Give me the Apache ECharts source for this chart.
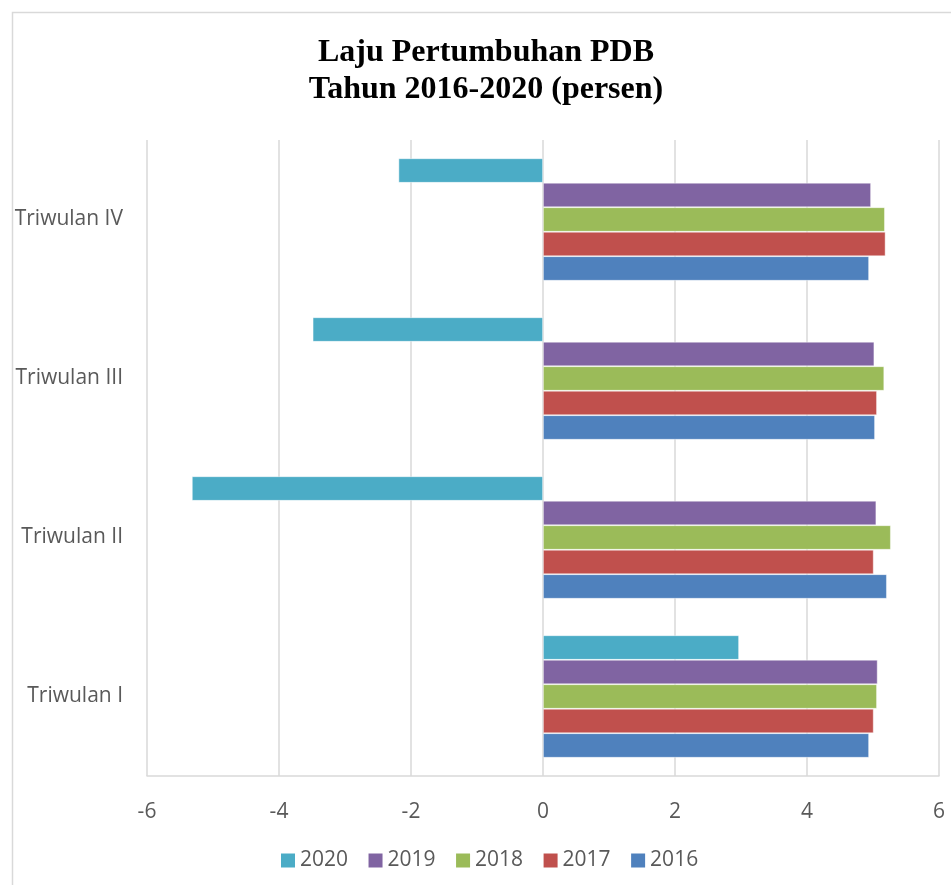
<!DOCTYPE html>
<html>
<head>
<meta charset="utf-8">
<script src="https://cdn.jsdelivr.net/npm/echarts@6/dist/echarts.min.js"></script>
<style>
  html, body { margin: 0; padding: 0; background: #ffffff; }
  #chart { width: 951px; height: 885px; }
</style>
</head>
<body>
<div id="chart"></div>
<script>
// Quarterly GDP growth (percent), Indonesia 2016-2020
const categories = ['Triwulan I', 'Triwulan II', 'Triwulan III', 'Triwulan IV'];
const years = ['2020', '2019', '2018', '2017', '2016'];
const growth2016 = [4.94, 5.21, 5.03, 4.94];
const growth2017 = [5.01, 5.01, 5.06, 5.19];
const growth2018 = [5.06, 5.27, 5.17, 5.18];
const growth2019 = [5.07, 5.05, 5.02, 4.97];
const growth2020 = [2.97, -5.32, -3.49, -2.19];
const xTicks = { min: -6, max: 6, interval: 2 };

const valuesByYear = {
  '2016': growth2016,
  '2017': growth2017,
  '2018': growth2018,
  '2019': growth2019,
  '2020': growth2020
};
const colors = {
  '2016': '#4F81BD',
  '2017': '#C0504D',
  '2018': '#9BBB59',
  '2019': '#8064A2',
  '2020': '#4BACC6'
};

const labelFont = '"Open Sans", "Noto Sans", sans-serif';

const chart = echarts.init(document.getElementById('chart'), null, { renderer: 'canvas' });

chart.setOption({
  backgroundColor: '#ffffff',
  animation: false,
  graphic: [{
    type: 'rect',
    left: 10,
    top: 10,
    shape: { width: 1000, height: 1000 },
    style: { fill: 'none', stroke: '#d9d9d9', lineWidth: 1.5 },
    silent: true,
    z: -1
  }],
  title: {
    text: 'Laju Pertumbuhan PDB\nTahun 2016-2020 (persen)',
    left: 486,
    top: 34,
    padding: 0,
    textAlign: 'center',
    textStyle: {
      fontFamily: '"Liberation Serif", "Times New Roman", serif',
      fontWeight: 'bold',
      fontSize: 32,
      lineHeight: 37,
      color: '#000000'
    }
  },
  legend: {
    data: years,
    bottom: 14,
    left: 281,
    padding: 0,
    itemWidth: 14,
    itemHeight: 14,
    itemGap: 20.5,
    icon: 'rect',
    itemStyle: { borderWidth: 0 },
    textStyle: { fontFamily: labelFont, fontSize: 21, color: '#595959' }
  },
  grid: { left: 147, right: 12, top: 140, bottom: 109, containLabel: false },
  xAxis: {
    type: 'value',
    min: xTicks.min,
    max: xTicks.max,
    interval: xTicks.interval,
    axisLine: { show: true, lineStyle: { color: '#d9d9d9', width: 1.5 } },
    axisTick: { show: false },
    splitLine: { show: true, lineStyle: { color: '#d9d9d9', width: 1.5 } },
    axisLabel: { fontFamily: labelFont, fontSize: 21, color: '#595959', margin: 26 }
  },
  yAxis: {
    type: 'category',
    data: categories,
    axisLine: { show: false },
    axisTick: { show: false },
    splitLine: { show: false },
    axisLabel: { fontFamily: labelFont, fontSize: 21, color: '#595959', margin: 24 }
  },
  series: years.map(function (y) {
    return {
      name: y,
      type: 'bar',
      data: valuesByYear[y],
      barGap: '0%',
      barCategoryGap: '23%',
      itemStyle: { color: colors[y], borderColor: 'rgba(255,255,255,0.55)', borderWidth: 0.8 }
    };
  })
});
</script>
</body>
</html>
